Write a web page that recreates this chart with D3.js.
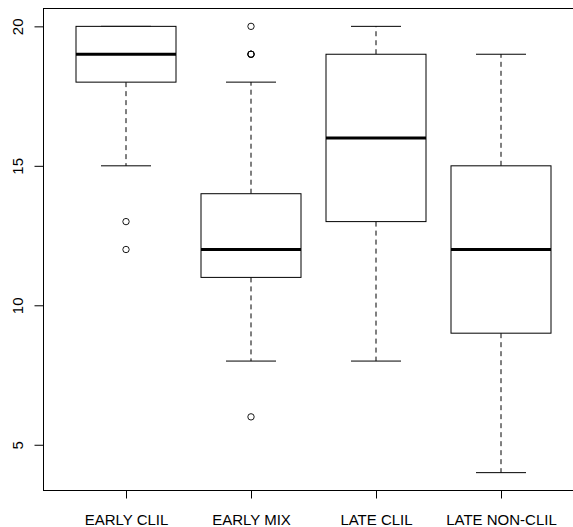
<!DOCTYPE html>
<html>
<head>
<meta charset="utf-8">
<script src="https://cdn.jsdelivr.net/npm/d3@7"></script>
<style>
  body { margin: 0; background: #fff; }
  svg { display: block; }
</style>
</head>
<body>
<div id="vizcont"></div>
<script>
// box summary per group
var groups = ["EARLY CLIL", "EARLY MIX", "LATE CLIL", "LATE NON-CLIL"];
var whiskerLow = [15, 8, 8, 4];
var q1 = [18, 11, 13, 9];
var median = [19, 12, 16, 12];
var q3 = [20, 14, 19, 15];
var whiskerHigh = [20, 18, 20, 19];
// outliers: [group index, value]; 19 in EARLY MIX is drawn several times over
var outliers = [[0, 13], [0, 12], [1, 20], [1, 19], [1, 19], [1, 19], [1, 6]];
var yTicks = [5, 10, 15, 20];

var width = 573, height = 527;
var svg = d3.select("#vizcont")
    .append("svg")
    .attr("width", width)
    .attr("height", height);

// R style: xlim 0.5..n+0.5 and 4% extension on both axes
var x = d3.scaleLinear().domain([0.34, 4.66]).range([43.5, 583.5]);
var y = d3.scaleLinear().domain([3.36, 20.64]).range([490.5, 8.5]);
var boxW = x(1.4) - x(1);   // half of boxwex 0.8
var capW = boxW / 2;

var font = "'Liberation Sans', Arial, sans-serif";

// plot frame
svg.append("rect")
    .attr("x", x(0.34))
    .attr("y", y(20.64))
    .attr("width", x(4.66) - x(0.34))
    .attr("height", y(3.36) - y(20.64))
    .attr("fill", "none")
    .attr("stroke", "#000")
    .attr("stroke-width", 1);

var data = groups.map(function(g, i) {
    return { name: g, i: i + 1, lo: whiskerLow[i], q1: q1[i], med: median[i], q3: q3[i], hi: whiskerHigh[i] };
});

var box = svg.append("g").selectAll("g")
    .data(data)
    .enter()
    .append("g");

// whiskers (dashed)
box.append("line")
    .attr("x1", function(d) { return x(d.i); })
    .attr("x2", function(d) { return x(d.i); })
    .attr("y1", function(d) { return y(d.q1); })
    .attr("y2", function(d) { return y(d.lo); })
    .attr("stroke", "#000")
    .style("stroke-dasharray", "5,4");
box.append("line")
    .attr("x1", function(d) { return x(d.i); })
    .attr("x2", function(d) { return x(d.i); })
    .attr("y1", function(d) { return y(d.q3); })
    .attr("y2", function(d) { return y(d.hi); })
    .attr("stroke", "#000")
    .style("stroke-dasharray", "5,4");

// staples
box.append("line")
    .attr("x1", function(d) { return x(d.i) - capW; })
    .attr("x2", function(d) { return x(d.i) + capW; })
    .attr("y1", function(d) { return y(d.lo); })
    .attr("y2", function(d) { return y(d.lo); })
    .attr("stroke", "#000");
box.append("line")
    .attr("x1", function(d) { return x(d.i) - capW; })
    .attr("x2", function(d) { return x(d.i) + capW; })
    .attr("y1", function(d) { return y(d.hi); })
    .attr("y2", function(d) { return y(d.hi); })
    .attr("stroke", "#000");

// boxes
box.append("rect")
    .attr("x", function(d) { return x(d.i) - boxW; })
    .attr("y", function(d) { return y(d.q3); })
    .attr("width", 2 * boxW)
    .attr("height", function(d) { return y(d.q1) - y(d.q3); })
    .attr("fill", "#fff")
    .attr("stroke", "#000");

// medians
box.append("line")
    .attr("x1", function(d) { return x(d.i) - boxW; })
    .attr("x2", function(d) { return x(d.i) + boxW; })
    .attr("y1", function(d) { return y(d.med); })
    .attr("y2", function(d) { return y(d.med); })
    .attr("stroke", "#000")
    .attr("stroke-width", 3);

// outliers
svg.append("g").selectAll("circle")
    .data(outliers)
    .enter()
    .append("circle")
    .attr("cx", function(d) { return x(d[0] + 1); })
    .attr("cy", function(d) { return y(d[1]); })
    .attr("r", 3.2)
    .attr("fill", "none")
    .attr("stroke", "#000")
    .attr("stroke-width", 0.9);

// x axis
var xAxis = svg.append("g")
    .attr("transform", "translate(0," + y(3.36) + ")")
    .call(d3.axisBottom(x)
        .tickValues([1, 2, 3, 4])
        .tickFormat(function(d) { return groups[d - 1]; })
        .tickSize(8)
        .tickPadding(16));
xAxis.select(".domain").remove();
xAxis.selectAll("text")
    .style("font-family", font)
    .style("font-size", "15px")
    .attr("fill", "#000");

// y axis
var yAxis = svg.append("g")
    .attr("transform", "translate(" + x(0.34) + ",0)")
    .call(d3.axisLeft(y)
        .tickValues(yTicks)
        .tickSize(9)
        .tickPadding(0));
yAxis.select(".domain").remove();
yAxis.selectAll("text").remove();
yAxis.selectAll(".tick")
    .append("text")
    .attr("transform", "translate(-21,0) rotate(-90)")
    .attr("text-anchor", "middle")
    .attr("fill", "#000")
    .style("font-family", font)
    .style("font-size", "15px")
    .text(function(d) { return d; });
</script>
</body>
</html>
